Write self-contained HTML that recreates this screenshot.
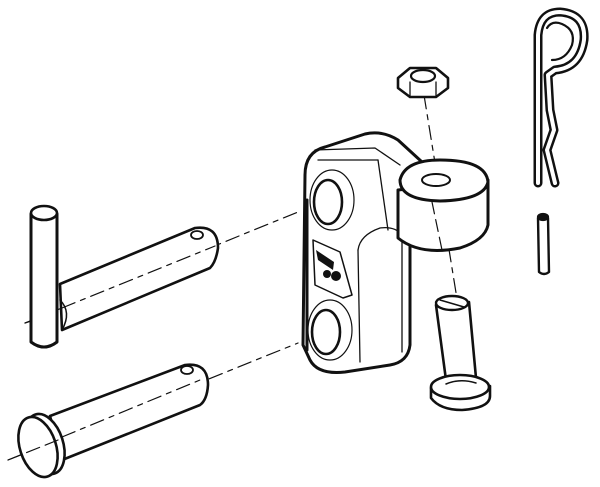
<!DOCTYPE html>
<html><head><style>html,body{margin:0;padding:0;background:#fff}svg{display:block}</style></head>
<body>
<svg width="600" height="487" viewBox="0 0 600 487" xmlns="http://www.w3.org/2000/svg" fill="none" stroke="#111" stroke-linecap="round" stroke-linejoin="round">
<!-- dashed axes -->
<g stroke-width="1.2" stroke-dasharray="14,6,5,6">
<line x1="25" y1="323" x2="298" y2="212"/>
<line x1="8" y1="460" x2="298" y2="343"/>
<line x1="424" y1="95" x2="458" y2="305"/>
</g>
<!-- upper horizontal pin -->
<path d="M60 284 L195 228 Q218 225 218 248 Q216 262 210 268 L62 330 Z" stroke-width="2.6" fill="#fff"/>
<path d="M60 300 Q72 312 62 330" stroke-width="1.5"/>
<ellipse cx="197" cy="235" rx="6" ry="4" stroke-width="1.8"/>
<line x1="62" y1="308" x2="215" y2="246" stroke-width="1.2" stroke-dasharray="14,6,5,6"/>
<!-- vertical pin -->
<path d="M31 214 L31 342 Q44 352 57 342 L57 214" stroke-width="3" fill="#fff"/>
<ellipse cx="44" cy="213" rx="13" ry="7" stroke-width="2.6" fill="#fff"/>
<line x1="25" y1="323" x2="31" y2="321" stroke-width="1.2"/>
<!-- lower pin -->
<path d="M50 416 L185 365 Q208 362 208 385 Q207 400 200 405 L62 460 Z" stroke-width="2.6" fill="#fff"/>
<ellipse cx="187" cy="370" rx="6" ry="4" stroke-width="1.8"/>
<line x1="62" y1="437" x2="200" y2="380" stroke-width="1.2" stroke-dasharray="14,6,5,6"/>
<ellipse cx="45" cy="444" rx="18" ry="31" transform="rotate(-18 45 444)" stroke-width="2.6" fill="#fff"/>
<ellipse cx="38" cy="447" rx="18" ry="31" transform="rotate(-18 38 447)" stroke-width="2.6" fill="#fff"/>
<line x1="8" y1="460" x2="58" y2="440" stroke-width="1.2" stroke-dasharray="14,6"/>
<!-- block body -->
<path d="M305 175 Q305 152 325 147 L365 134 Q382 130 398 140 L422 162 L402 190 L404 232 L410 240 L410 345 Q408 362 390 365 L345 372 Q318 375 310 360 L303 345 Z" stroke-width="3" fill="#fff"/>
<path d="M315 150 L375 148 L400 165" stroke-width="1.3"/>
<path d="M318 160 Q360 160 378 160" stroke-width="1.3"/>
<path d="M378 160 L388 230" stroke-width="1.3"/>
<path d="M358 250 Q360 235 380 228 Q395 226 402 235 L402 352" stroke-width="1.3"/>
<path d="M358 250 L360 362" stroke-width="1.3"/>
<ellipse cx="328" cy="202" rx="14" ry="22" stroke-width="2.6"/>
<ellipse cx="332" cy="200" rx="22" ry="30" stroke-width="1.2"/>
<ellipse cx="326" cy="332" rx="14" ry="22" stroke-width="2.6"/>
<ellipse cx="330" cy="330" rx="22" ry="30" stroke-width="1.2"/>
<path d="M313 240 L340 252 L352 295 L343 298 L315 285 Z" stroke-width="1.5"/>
<path d="M316 250 L334 262 L333 270 L318 260 Z" fill="#111" stroke="none"/>
<circle cx="336" cy="276" r="5" fill="#111" stroke="none"/>
<circle cx="327" cy="274" r="4" fill="#111" stroke="none"/>
<line x1="307" y1="200" x2="307" y2="350" stroke-width="3"/>
<!-- arm cylinder -->
<path d="M398 190 L398 238 Q420 256 460 248 Q485 240 488 225 L488 180 Z" stroke-width="3" fill="#fff"/>
<path d="M400 180 Q405 160 440 160 Q486 160 488 182 Q484 200 440 201 Q400 200 400 180 Z" stroke-width="3" fill="#fff"/>
<ellipse cx="436" cy="180" rx="14" ry="6" stroke-width="2"/>
<line x1="432" y1="202" x2="442" y2="250" stroke-width="1.2" stroke-dasharray="12,6"/>
<!-- nut -->
<path d="M398 78 L410 68 L436 68 L448 78 L448 88 L436 97 L410 97 L398 88 Z" stroke-width="2.6" fill="#fff"/>
<ellipse cx="423" cy="76" rx="12" ry="6" stroke-width="2.2"/>
<line x1="410" y1="82" x2="410" y2="97" stroke-width="1.3"/>
<line x1="436" y1="82" x2="436" y2="97" stroke-width="1.3"/>
<!-- bolt -->
<path d="M436 305 L446 380 L476 378 L469 302" stroke-width="2.6" fill="#fff"/>
<ellipse cx="452" cy="303" rx="16" ry="7" stroke-width="2.4" fill="#fff"/>
<line x1="440" y1="300" x2="464" y2="307" stroke-width="1.5"/>
<path d="M431 388 L431 398 Q440 410 462 410 Q490 408 490 396 L490 386" stroke-width="2.6" fill="#fff"/>
<ellipse cx="460" cy="387" rx="29" ry="12" stroke-width="2.6" fill="#fff"/>
<path d="M446 384 Q460 378 476 383" stroke-width="1.5"/>
<!-- R clip -->
<g>
<path d="M538 183 L538 35 Q540 12 560 12 Q586 14 584 40 Q580 68 555 70 L548 75 L550 110 L554 130 L547 150 L555 183" stroke-width="9"/>
<path d="M538 183 L538 35 Q540 12 560 12 Q586 14 584 40 Q580 68 555 70 L548 75 L550 110 L554 130 L547 150 L555 183" stroke-width="4" stroke="#fff"/>
<path d="M547 28 Q552 20 562 24 Q576 30 572 45 Q566 60 552 60" stroke-width="2.2"/>
</g>
<!-- small pin -->
<path d="M538 218 L539 272 Q544 276 549 272 L548 218" stroke-width="2.4" fill="#fff"/>
<ellipse cx="543" cy="217" rx="5" ry="3" stroke-width="2.2" fill="#111"/>
</svg>
</body></html>
